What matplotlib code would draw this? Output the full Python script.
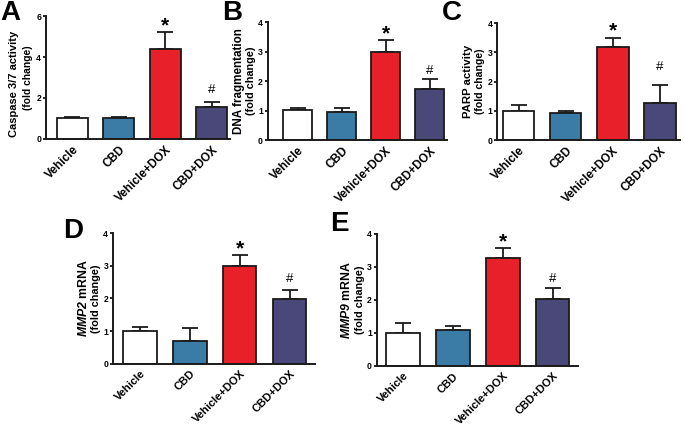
import matplotlib
matplotlib.use("Agg")
import matplotlib.pyplot as plt

plt.rcParams.update({"font.family": ["Liberation Sans", "DejaVu Sans"],
                     "font.weight": "bold",
                     "mathtext.fontset": "custom",
                     "mathtext.rm": "Liberation Sans:bold",
                     "mathtext.bfit": "Liberation Sans:bold:italic",
                     "axes.spines.top": False,
                     "axes.spines.right": False})

# ── Data ───────────────────────────────────────────────────────────────────
groups = ["Vehicle", "CBD", "Vehicle+DOX", "CBD+DOX"]
colors = ["#ffffff", "#3a7ca5", "#e8202a", "#4a4878"]

caspase_mean = [1.00, 1.02, 4.38, 1.57]
caspase_err  = [0.05, 0.05, 0.84, 0.24]

dna_mean = [1.01, 0.95, 2.98, 1.72]
dna_err  = [0.09, 0.15, 0.40, 0.35]

parp_mean = [1.00, 0.92, 3.18, 1.27]
parp_err  = [0.21, 0.06, 0.32, 0.62]

mmp2_mean = [1.00, 0.71, 2.99, 1.98]
mmp2_err  = [0.14, 0.38, 0.33, 0.27]

mmp9_mean = [1.00, 1.09, 3.26, 2.03]
mmp9_err  = [0.30, 0.12, 0.31, 0.33]

PX = 72 / 100  # pixels -> points

# letter, mean, err, ylim top, yticks, label, label sizes, label offsets (px),
# axes rect, xlim, letter pos (px, top of text box), letter size,
# '#' offset (px), xtick size
panels = [
    ("A", caspase_mean, caspase_err, 6, [0, 2, 4, 6], "Caspase 3/7 activity",
     (8.0, 7.4), (-32, -18), [0.067, 0.674, 0.269, 0.288], (-0.57, 3.40),
     (0, 0), 20, 9, 8.5),
    ("B", dna_mean, dna_err, 4, [0, 1, 2, 3, 4], "DNA fragmentation",
     (8.4, 7.8), (-29, -17), [0.391, 0.671, 0.262, 0.277], (-0.68, 3.40),
     (222, -3), 20, 5, 8.5),
    ("C", parp_mean, parp_err, 4, [0, 1, 2, 3, 4], "PARP activity",
     (8.2, 7.6), (-29, -17), [0.726, 0.671, 0.267, 0.275], (-0.45, 3.43),
     (442, -1), 20, 15, 8.5),
    ("D", mmp2_mean, mmp2_err, 4, [0, 1, 2, 3, 4], r"$\mathbfit{MMP2}$ mRNA",
     (8.8, 7.8), (-30, -17), [0.165, 0.146, 0.295, 0.307], (-0.54, 3.51),
     (63, 218), 20, 8, 8.0),
    ("E", mmp9_mean, mmp9_err, 4, [0, 1, 2, 3, 4], r"$\mathbfit{MMP9}$ mRNA",
     (8.8, 7.8), (-30, -17), [0.550, 0.141, 0.294, 0.310], (-0.53, 3.51),
     (330, 211), 20, 6, 8.0),
]

fig = plt.figure(figsize=(6.85, 4.26), dpi=100)

for (letter, mean, err, ytop, yticks, lab, lsz, loff, rect, xlim, lpos,
     lfs, hoff, xfs) in panels:
    ax = fig.add_axes(rect)
    x = range(len(groups))
    ax.bar(x, mean, width=0.67, color=colors, edgecolor="#1a1a1a",
           linewidth=1.3, zorder=2)
    ax.errorbar(x, mean, yerr=[[0] * len(err), err], fmt="none",
                ecolor="#1a1a1a", elinewidth=1.3, capsize=5.5, capthick=1.3,
                zorder=1)
    ax.set_ylim(0, ytop)
    ax.set_xlim(*xlim)
    ax.set_yticks(yticks)
    ax.set_yticklabels([str(t) for t in yticks], fontsize=6.2, fontweight="bold")
    ax.set_xticks(list(x))
    ax.set_xticklabels(groups, rotation=45, ha="right", rotation_mode="anchor",
                       fontsize=xfs, fontweight="bold")
    ax.tick_params(axis="x", length=0, pad=3.5)
    ax.tick_params(axis="y", length=2.5, width=1.2, pad=1)
    for s in ["left", "bottom"]:
        ax.spines[s].set_linewidth(1.4)
        ax.spines[s].set_color("#1a1a1a")

    # two-line y label (Caspase label sits a little low in the original)
    ydrop = 0.45 if letter == "A" else 0.5
    ax.annotate(lab, xy=(0, ydrop), xycoords="axes fraction",
                xytext=(loff[0] * PX, 0), textcoords="offset points",
                rotation=90, ha="center", va="center",
                fontsize=lsz[0], fontweight="bold")
    ax.annotate("(fold change)", xy=(0, 0.5), xycoords="axes fraction",
                xytext=(loff[1] * PX, 0), textcoords="offset points",
                rotation=90, ha="center", va="center",
                fontsize=lsz[1], fontweight="bold")

    # significance marks
    ax.annotate("*", xy=(2, mean[2] + err[2]), xytext=(0, 1 * PX),
                textcoords="offset points", ha="center", va="baseline",
                fontsize=15, fontweight="bold")
    ax.annotate("#", xy=(3, mean[3] + err[3]), xytext=(0, hoff * PX),
                textcoords="offset points", ha="center", va="baseline",
                fontsize=9.5, fontweight="normal")

    fig.text(lpos[0] / 685, min(1.0, 1 - lpos[1] / 426), letter, fontsize=lfs,
             fontweight="bold", ha="left", va="top")

fig.savefig("out.png", dpi=100)
